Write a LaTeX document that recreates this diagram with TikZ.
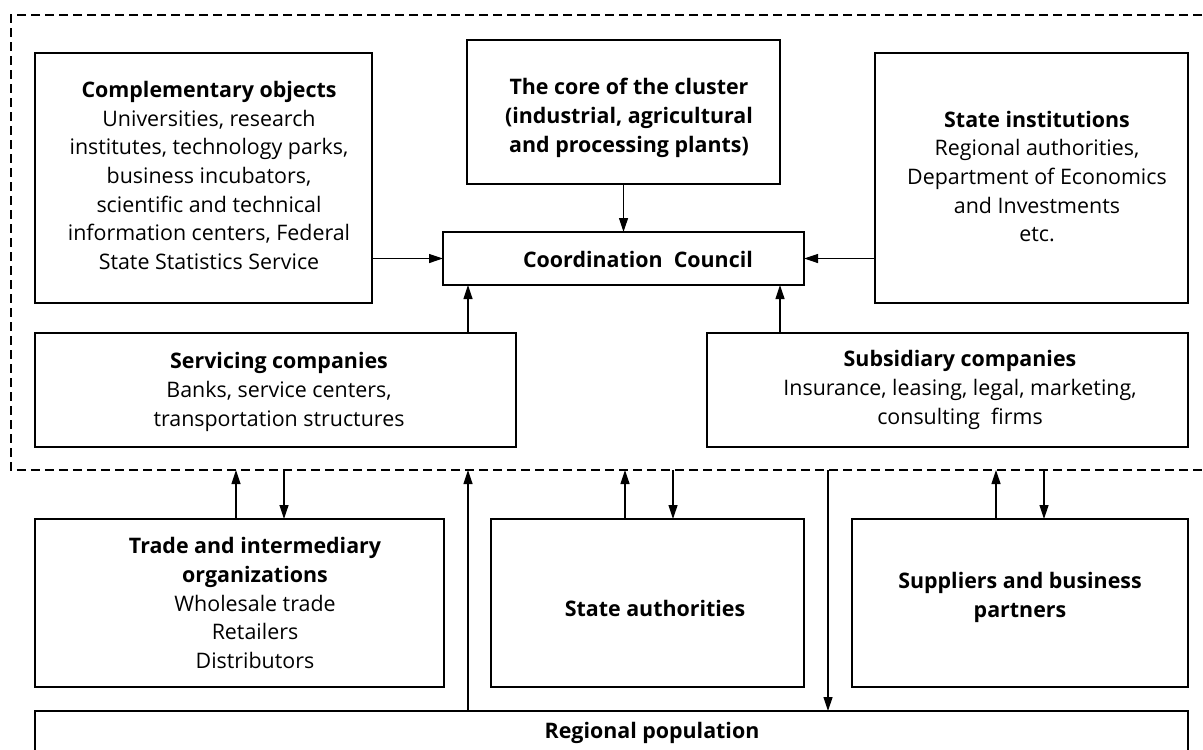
\documentclass[tikz,border=0pt]{standalone}
\usepackage{fontspec}
\setmainfont{Open Sans}
\usetikzlibrary{arrows.meta}
\begin{document}
\begin{tikzpicture}[x=1pt,y=-1pt,
  box/.style={draw, line width=1.5pt, inner sep=0pt, outer sep=0pt},
  txt/.style={align=center, font=\fontsize{21.4}{28.7}\selectfont, inner sep=0pt},
  arr/.style={line width=1.2pt, -{Triangle[length=14pt,width=9pt]}},
  cluster/.style={line width=1.3pt, dash pattern=on 9pt off 5pt}]
\clip (0,0) rectangle (1203,750);
\fill[white] (0,0) rectangle (1203,750);
% cluster boundary
\draw[cluster] (1230,15) -- (11,15) -- (11,470) -- (1230,470);
% boxes
\node[box, minimum width=337pt, minimum height=250pt] (comp) at (203.5,178) {};
\node[box, minimum width=313pt, minimum height=144pt] (core) at (623.5,112) {};
\node[box, minimum width=313pt, minimum height=250pt] (stinst) at (1031.5,178) {};
\node[box, minimum width=361pt, minimum height=53pt] (coord) at (623.5,258.5) {};
\node[box, minimum width=481pt, minimum height=114pt] (serv) at (275.5,390) {};
\node[box, minimum width=481pt, minimum height=114pt] (subs) at (947.5,390) {};
\node[box, minimum width=409pt, minimum height=168pt] (trade) at (239.5,603) {};
\node[box, minimum width=313pt, minimum height=168pt] (stauth) at (647.5,603) {};
\node[box, minimum width=336pt, minimum height=168pt] (supp) at (1020,603) {};
\node[box, minimum width=1153pt, minimum height=80pt] (regpop) at (611.5,751) {};
% texts
\node[txt] (tcomp) at (209,175.5) {\textbf{Complementary objects}\\Universities, research\\institutes, technology parks,\\business incubators,\\scientific and technical\\information centers, Federal\\State Statistics Service};
\node[txt] (tcore) at (629,118) {\textbf{The core of the cluster}\\\textbf{(industrial, agricultural}\\\textbf{and processing plants)}};
\node[txt] (tstinst) at (1037,176.5) {\textbf{State institutions}\\Regional authorities,\\Department of Economics\\and Investments\\etc.};
\node[txt] (tcoord) at (638,259) {\textbf{Coordination\ \ Council}};
\node[txt] (tserv) at (279,392) {\textbf{Servicing companies}\\Banks, service centers,\\transportation structures};
\node[txt] (tsubs) at (960,390) {\textbf{Subsidiary companies}\\Insurance, leasing, legal, marketing,\\consulting\ \ firms};
\node[txt] (ttrade) at (255,603) {\textbf{Trade and intermediary}\\\textbf{organizations}\\Wholesale trade\\Retailers\\Distributors};
\node[txt] (tstauth) at (655,608) {\textbf{State authorities}};
\node[txt] (tsupp) at (1020,597.5) {\textbf{Suppliers and business}\\\textbf{partners}};
\node[txt] (tregpop) at (652,733) {\textbf{Regional population}};
% arrows inside the cluster
\draw[arr] (core.south) -- (core.south |- coord.north);
\draw[arr] (comp.east |- coord.west) -- (coord.west);
\draw[arr] (stinst.west |- coord.east) -- (coord.east);
\coordinate (s1) at (468,0);
\coordinate (s2) at (780,0);
\draw[arr] (serv.north -| s1) -- (coord.south -| s1);
\draw[arr] (subs.north -| s2) -- (coord.south -| s2);
% arrows across the boundary
\coordinate (b1) at (236,470);
\coordinate (b2) at (284,470);
\coordinate (b3) at (625,470);
\coordinate (b4) at (673,470);
\coordinate (b5) at (996,470);
\coordinate (b6) at (1044,470);
\coordinate (b7) at (468,470);
\coordinate (b8) at (828,470);
\draw[arr] (trade.north -| b1) -- (b1);
\draw[arr] (b2) -- (trade.north -| b2);
\draw[arr] (stauth.north -| b3) -- (b3);
\draw[arr] (b4) -- (stauth.north -| b4);
\draw[arr] (supp.north -| b5) -- (b5);
\draw[arr] (b6) -- (supp.north -| b6);
\draw[arr] (regpop.north -| b7) -- (b7);
\draw[arr] (b8) -- (regpop.north -| b8);
\end{tikzpicture}
\end{document}
